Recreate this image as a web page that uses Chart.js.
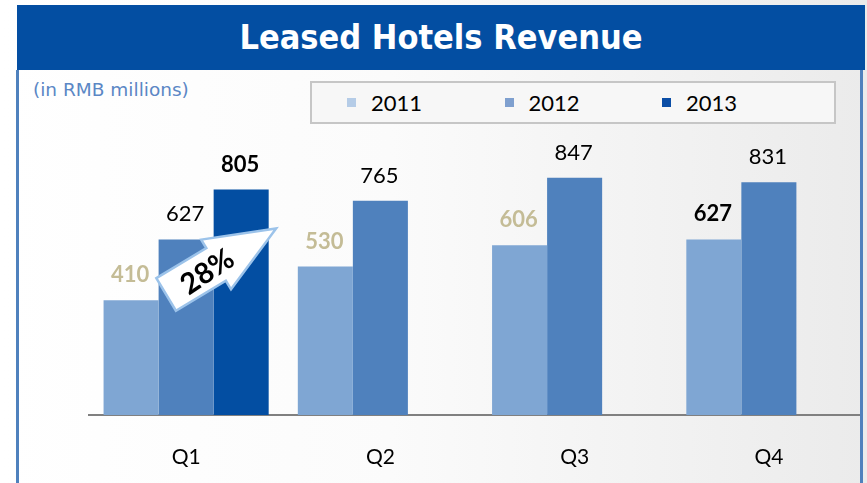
<!DOCTYPE html>
<html>
<head>
<meta charset="utf-8">
<script src="https://cdn.jsdelivr.net/npm/chart.js@4.4.1/dist/chart.umd.min.js"></script>
<style>
html,body{margin:0;padding:0;width:867px;height:483px;overflow:hidden;}
body{position:relative;background:linear-gradient(to right,#ffffff 0%,#fbfbfb 45%,#ebebeb 100%);}
#banner{position:absolute;left:17px;top:5px;width:848px;height:65px;background:#034EA2;color:#fff;
  font:bold 34px 'DejaVu Sans Condensed','DejaVu Sans',sans-serif;text-align:center;line-height:65px;}
#lb{position:absolute;left:16px;top:70px;width:3px;height:413px;background:#4F81BD;}
#rb{position:absolute;left:860px;top:70px;width:3px;height:413px;background:#4F81BD;}
#sub{position:absolute;left:33px;top:79px;font:18.5px 'DejaVu Sans',sans-serif;color:#5B87C5;white-space:nowrap;}
#legend{position:absolute;left:310px;top:81px;width:522px;height:39px;border:2px solid #c6c6c6;background:#f7f7f7;}
.li{position:absolute;top:0;height:39px;display:flex;align-items:center;font:22px Lato,sans-serif;color:#000;}
.li i{display:inline-block;width:9px;height:9px;margin-right:15px;}
#wrap{position:absolute;left:0;top:0;width:860px;height:483px;overflow:hidden;}
canvas{position:absolute;left:0;top:0;}
</style>
</head>
<body>
<div id="banner">Leased Hotels Revenue</div>
<div id="sub">(in RMB millions)</div>
<div id="legend"></div>
<div id="wrap"><canvas id="c" width="867" height="483" style="width:867px;height:483px"></canvas></div>
<div id="lb"></div>
<div id="rb"></div>
<script>
// ---- data ----
const categories = ['Q1', 'Q2', 'Q3', 'Q4'];
const years = ['2011', '2012', '2013'];
const rev2011 = [410, 530, 606, 627];
const rev2012 = [627, 765, 847, 831];
const rev2013 = [805, null, null, null];
const growthText = '28%';

// ---- styles ----
const barColors = ['#7FA6D3', '#4F81BD', '#034EA2'];
const legendColors = ['#B5CCE7', '#7FA0CF', '#0B4EA6'];
const TAN = '#C4BC96';
const labelStyles = [
  [{c: TAN, b: true}, {c: TAN, b: true}, {c: TAN, b: true}, {c: '#000', b: true}],
  [{c: '#000', b: false}, {c: '#000', b: false}, {c: '#000', b: false}, {c: '#000', b: false}],
  [{c: '#000', b: true}, {c: '#000', b: true}, {c: '#000', b: true}, {c: '#000', b: true}]
];

// legend (html)
const lg = document.getElementById('legend');
years.forEach((y, i) => {
  const d = document.createElement('div');
  d.className = 'li';
  d.style.left = (35 + i * 157.5) + 'px';
  d.innerHTML = '<i style="background:' + legendColors[i] + '"></i>' + y;
  lg.appendChild(d);
});

const valueLabels = {
  id: 'valueLabels',
  afterDatasetsDraw(chart) {
    const ctx = chart.ctx;
    // growth arrow anchored on Q1 bars
    const b12 = chart.getDatasetMeta(1).data[0];
    const tail = {x: b12.x - 20, y: b12.y + 55};
    const tip = {x: b12.x + 90, y: b12.y - 11};
    const dx = tip.x - tail.x, dy = tip.y - tail.y, L = Math.hypot(dx, dy);
    const u = {x: dx / L, y: dy / L}, n = {x: -u.y, y: u.x};
    const hw = 19, hh = 29, shaft = L - 70;
    const P = (s, t) => [tail.x + u.x * s + n.x * t, tail.y + u.y * s + n.y * t];
    const pts = [P(0, -hw), P(shaft, -hw), P(shaft, -hh), [tip.x, tip.y], P(shaft, hh), P(shaft, hw), P(0, hw)];
    ctx.save();
    ctx.beginPath();
    pts.forEach((p, i) => i ? ctx.lineTo(p[0], p[1]) : ctx.moveTo(p[0], p[1]));
    ctx.closePath();
    ctx.fillStyle = '#ffffff';
    ctx.fill();
    ctx.lineWidth = 2.5;
    ctx.strokeStyle = '#9CC3EA';
    ctx.lineJoin = 'miter';
    ctx.stroke();
    const c = P(47, 1);
    ctx.translate(c[0], c[1]);
    ctx.rotate(Math.atan2(u.y, u.x) - 0.05);
    ctx.font = 'bold 29px Lato, sans-serif';
    ctx.fillStyle = '#000';
    ctx.textAlign = 'center';
    ctx.textBaseline = 'middle';
    ctx.fillText(growthText, 0, 1);
    ctx.restore();

    chart.data.datasets.forEach((ds, di) => {
      const meta = chart.getDatasetMeta(di);
      meta.data.forEach((bar, i) => {
        const v = ds.data[i];
        if (v == null) return;
        const st = labelStyles[di][i];
        ctx.save();
        ctx.font = (st.b ? 'bold ' : '') + '22px Lato, sans-serif';
        ctx.fillStyle = st.c;
        ctx.textAlign = 'center';
        ctx.textBaseline = 'alphabetic';
        ctx.fillText(String(v), bar.x - 1, bar.y - 18);
        ctx.restore();
      });
    });
  }
};

new Chart(document.getElementById('c'), {
  type: 'bar',
  data: {
    labels: categories,
    datasets: [
      {label: years[0], data: rev2011, backgroundColor: barColors[0]},
      {label: years[1], data: rev2012, backgroundColor: barColors[1]},
      {label: years[2], data: rev2013, backgroundColor: barColors[2]}
    ]
  },
  options: {
    responsive: false,
    animation: false,
    events: [],
    layout: {padding: {left: 89, right: 1, top: 135, bottom: 0}},
    datasets: {bar: {categoryPercentage: 0.85, barPercentage: 1}},
    plugins: {legend: {display: false}, tooltip: {enabled: false}, title: {display: false}},
    scales: {
      x: {
        grid: {display: false, drawTicks: false},
        border: {display: true, color: '#808080', width: 2},
        ticks: {color: '#000', font: {family: 'Lato', size: 21}, padding: 30},
        afterFit: s => { s.height = 68; }
      },
      y: {display: false, min: 0, max: 1000}
    }
  },
  plugins: [valueLabels]
});
</script>
</body>
</html>
